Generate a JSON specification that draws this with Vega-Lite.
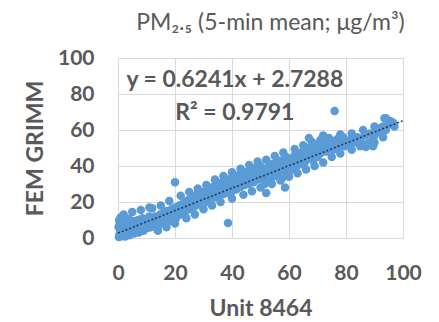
{
  "$schema": "https://vega.github.io/schema/vega-lite/v6.json",
  "width": 285,
  "height": 180,
  "autosize": {"type": "none"},
  "padding": {"left": 118, "top": 58, "right": 36, "bottom": 84},
  "background": "white",
  "config": {"view": {"stroke": null}, "font": "Lato", "axis": {"labelOverlap": false, "labelFlush": false, "labelBound": false}},
  "title": {"text": "PM₂.₅ (5-min mean; μg/m³)", "fontSize": 23, "fontWeight": "normal", "color": "#595959", "offset": 12, "dx": 10, "font": "Lato"},
  "datasets": {
    "points": [
      {"x":0.3,"y":0.5},{"x":0.5,"y":2},{"x":0.8,"y":4},{"x":0.2,"y":6},{"x":0.6,"y":8},{"x":0.4,"y":10},{"x":1,"y":11.5},{"x":1.2,"y":1},{"x":1.5,"y":3},{"x":1.8,"y":5.5},
      {"x":2,"y":7},{"x":2.2,"y":9},{"x":2.5,"y":0.8},{"x":2.8,"y":2.5},{"x":3,"y":4.5},{"x":3.2,"y":6.5},{"x":3.5,"y":8.5},{"x":3.8,"y":10.5},{"x":4,"y":1.5},{"x":4.3,"y":3.5},
      {"x":4.6,"y":5},{"x":5,"y":7.5},{"x":5.3,"y":9.5},{"x":5.6,"y":2.5},{"x":6,"y":4.2},{"x":6.3,"y":6},{"x":6.6,"y":8},{"x":7,"y":10},{"x":7.3,"y":3},{"x":7.6,"y":5},
      {"x":8,"y":7},{"x":8.3,"y":9},{"x":8.6,"y":11},{"x":9,"y":4},{"x":9.3,"y":6},{"x":9.6,"y":8.5},{"x":10,"y":10.5},{"x":10.3,"y":5.5},{"x":10.6,"y":7.5},{"x":11,"y":12},
      {"x":11,"y":17},{"x":11.5,"y":6},{"x":12,"y":8.5},{"x":12.3,"y":10.5},{"x":12.8,"y":7},{"x":13,"y":12},{"x":13.5,"y":9},{"x":14,"y":6.5},{"x":14.3,"y":11},{"x":14.8,"y":13},
      {"x":15,"y":8.5},{"x":15.5,"y":10.5},{"x":16,"y":14},{"x":16.3,"y":12},{"x":16.8,"y":9},{"x":17,"y":15},{"x":17.5,"y":11.5},{"x":18,"y":13.5},{"x":18.3,"y":9.5},{"x":18.8,"y":16},
      {"x":19,"y":12},{"x":19.5,"y":14.5},{"x":20,"y":17},{"x":20.3,"y":11},{"x":20.7,"y":13.5},{"x":20,"y":31},
      {"x":21,"y":15},{"x":21.5,"y":18},{"x":22,"y":13},{"x":22.5,"y":16.5},{"x":23,"y":19.5},{"x":23.5,"y":14.5},{"x":24,"y":17.5},{"x":24.5,"y":21},{"x":25,"y":16},{"x":25.5,"y":19},
      {"x":26,"y":22.5},{"x":26.5,"y":17},{"x":27,"y":20},{"x":27.5,"y":24},{"x":28,"y":18.5},{"x":28.5,"y":21.5},{"x":29,"y":25},{"x":29.5,"y":19},{"x":30,"y":22.5},{"x":30.5,"y":26},
      {"x":31,"y":20},{"x":31.5,"y":23.5},{"x":32,"y":27},{"x":32.5,"y":21.5},{"x":33,"y":25},{"x":33.5,"y":28.5},{"x":34,"y":22.5},{"x":34.5,"y":26},{"x":35,"y":29.5},{"x":35.5,"y":23},
      {"x":36,"y":27},{"x":36.5,"y":31},{"x":37,"y":24.5},{"x":37.5,"y":28},{"x":38,"y":32},{"x":38.5,"y":25},{"x":39,"y":29},{"x":39.5,"y":33},{"x":40,"y":26},{"x":40.5,"y":30},
      {"x":41,"y":34},{"x":38.6,"y":8.3},
      {"x":41.5,"y":27},{"x":42,"y":31},{"x":42.5,"y":35},{"x":43,"y":28.5},{"x":43.5,"y":32.5},{"x":44,"y":36},{"x":44.5,"y":29.5},{"x":45,"y":33.5},{"x":45.5,"y":37},{"x":46,"y":30},
      {"x":46.5,"y":34},{"x":47,"y":38},{"x":47.5,"y":31},{"x":48,"y":35},{"x":48.5,"y":39},{"x":49,"y":32.5},{"x":49.5,"y":36},{"x":50,"y":40},{"x":50.5,"y":33},{"x":51,"y":37},
      {"x":52,"y":25},{"x":58.6,"y":28},
      {"x":51.5,"y":30},{"x":52,"y":34.5},{"x":52.5,"y":39},{"x":53,"y":32},{"x":53.5,"y":36},{"x":54,"y":41},{"x":54.5,"y":34},{"x":55,"y":38},{"x":55.5,"y":42},{"x":56,"y":35},
      {"x":56.5,"y":39.5},{"x":57,"y":43},{"x":57.5,"y":33},{"x":58,"y":37.5},{"x":58.5,"y":41},{"x":59,"y":45},{"x":59.5,"y":36},{"x":60,"y":40},{"x":60.5,"y":44},
      {"x":61,"y":38},{"x":61.5,"y":42},{"x":62,"y":46},{"x":62.5,"y":39.5},{"x":63,"y":43.5},{"x":63.5,"y":47},{"x":64,"y":41},{"x":64.5,"y":45},{"x":65,"y":48.5},{"x":65.5,"y":42},
      {"x":66,"y":46},{"x":66.5,"y":50},{"x":67,"y":44},{"x":67.5,"y":47.5},{"x":68,"y":51},{"x":68.5,"y":43},{"x":69,"y":48},{"x":69.5,"y":52},{"x":70,"y":45},{"x":70.5,"y":49},
      {"x":67,"y":55.5},{"x":72,"y":57},
      {"x":71,"y":47},{"x":71.5,"y":51},{"x":72,"y":53},{"x":73,"y":48},{"x":73.5,"y":52},{"x":74,"y":50},{"x":75,"y":54},{"x":75.5,"y":49},{"x":76,"y":51.5},{"x":77,"y":55},
      {"x":77.5,"y":50},{"x":78,"y":53},{"x":79,"y":56},{"x":79.5,"y":51},{"x":80,"y":54},{"x":76,"y":70.5},
      {"x":81,"y":52},{"x":82,"y":55.5},{"x":83,"y":53},{"x":84,"y":56},{"x":85,"y":54.5},{"x":86,"y":52},{"x":86.5,"y":57},{"x":87,"y":50.5},{"x":88,"y":53},{"x":88.5,"y":58},
      {"x":89,"y":54},{"x":89.5,"y":51},{"x":90,"y":57},{"x":91,"y":59},{"x":92,"y":61},{"x":92.5,"y":58},{"x":93,"y":62},{"x":93.5,"y":66.5},{"x":94,"y":60},{"x":95,"y":63},
      {"x":95.5,"y":65},{"x":96.5,"y":64},{"x":97,"y":62},
      {"x":2,"y":13},{"x":5,"y":14.5},{"x":8,"y":15.5},{"x":12,"y":16.5},{"x":15,"y":18},{"x":18,"y":20.5},{"x":22,"y":23.5},{"x":25,"y":25.5},{"x":28,"y":27.5},{"x":31,"y":29.5},
      {"x":34,"y":32.5},{"x":37,"y":34.5},{"x":40,"y":36.5},{"x":43,"y":38.5},{"x":46,"y":40.5},{"x":49,"y":42.5},{"x":52,"y":43.5},{"x":55,"y":45.5},{"x":58,"y":47.5},{"x":62,"y":49.5},
      {"x":65,"y":51.5},{"x":68,"y":53.5},{"x":71,"y":54.5},{"x":74,"y":55.5},{"x":78,"y":57.5},{"x":82,"y":58},{"x":86,"y":60},{"x":90,"y":62},{"x":94,"y":66.5},
      {"x":14,"y":4},{"x":17,"y":6},{"x":20,"y":8},{"x":24,"y":11},{"x":27,"y":13},{"x":30,"y":16},{"x":33,"y":18},{"x":36,"y":20},{"x":40,"y":22},{"x":44,"y":24},
      {"x":47,"y":26},{"x":50,"y":28},{"x":54,"y":30},{"x":57,"y":32},{"x":60,"y":34},{"x":63,"y":36},{"x":66,"y":38},{"x":69,"y":40},{"x":72,"y":42},{"x":75,"y":45},
      {"x":78,"y":47},{"x":82,"y":49},{"x":85,"y":51},{"x":90,"y":53},{"x":93,"y":56}
    ],
    "trend": [{"x": 0, "y": 2.7288}, {"x": 100, "y": 65.1388}],
    "notes": [{"x": 41, "y": 88, "label": "y = 0.6241x + 2.7288"}, {"x": 41, "y": 69.5, "label": "R² = 0.9791"}]
  },
  "encoding": {
    "x": {"field": "x", "type": "quantitative", "title": "Unit 8464",
          "scale": {"domain": [0, 100], "nice": false},
          "axis": {"values": [0, 20, 40, 60, 80, 100], "domain": false, "ticks": false, "grid": true, "gridColor": "#D9D9D9",
                   "labelOverlap": false, "labelFlush": false, "labelBound": false,
                   "labelFontSize": 21, "labelFontWeight": "bold", "labelColor": "#595959", "labelPadding": 24,
                   "titleFontSize": 23, "titleFontWeight": "bold", "titleColor": "#595959", "titlePadding": 14, "labelFont": "Lato", "titleFont": "Lato"}},
    "y": {"field": "y", "type": "quantitative", "title": "FEM GRIMM",
          "scale": {"domain": [0, 100], "nice": false},
          "axis": {"values": [0, 20, 40, 60, 80, 100], "domain": false, "ticks": false, "grid": true, "gridColor": "#D9D9D9",
                   "labelOverlap": false, "labelFlush": false, "labelBound": false,
                   "labelFontSize": 21, "labelFontWeight": "bold", "labelColor": "#595959", "labelPadding": 24,
                   "titleFontSize": 23, "titleFontWeight": "bold", "titleColor": "#595959", "titlePadding": 10, "labelFont": "Lato", "titleFont": "Lato"}}
  },
  "layer": [
    {
      "data": {"name": "points"},
      "mark": {"type": "circle", "size": 72, "color": "#5B9BD5", "opacity": 1}
    },
    {
      "data": {"name": "trend"},
      "mark": {"type": "line", "color": "#1F3864", "strokeWidth": 1.6, "strokeDash": [2, 2]}
    },
    {
      "data": {"name": "notes"},
      "mark": {"type": "text", "fontSize": 23, "fontWeight": "bold", "color": "#595959", "font": "Lato", "align": "center", "baseline": "middle"},
      "encoding": {"text": {"field": "label"}}
    }
  ]
}
